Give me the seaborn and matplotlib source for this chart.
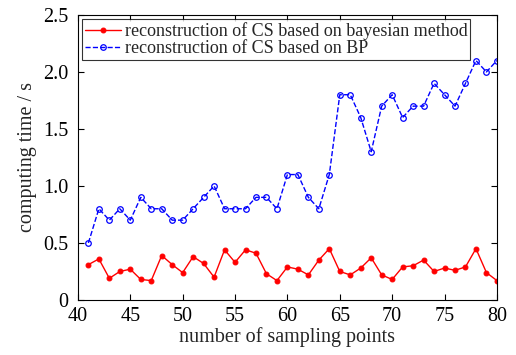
import matplotlib
matplotlib.use("Agg")
import matplotlib.pyplot as plt
import seaborn as sns
import pandas as pd

points = list(range(41, 81))
bayes = [0.31, 0.36, 0.19, 0.25, 0.27, 0.18, 0.17, 0.39, 0.31, 0.24,
         0.38, 0.32, 0.20, 0.44, 0.33, 0.44, 0.41, 0.23, 0.17, 0.29,
         0.27, 0.22, 0.35, 0.45, 0.25, 0.22, 0.28, 0.37, 0.22, 0.18,
         0.29, 0.30, 0.35, 0.25, 0.28, 0.26, 0.29, 0.45, 0.24, 0.17]
bp = [0.5, 0.8, 0.7, 0.8, 0.7, 0.9, 0.8, 0.8, 0.7, 0.7,
      0.8, 0.9, 1.0, 0.8, 0.8, 0.8, 0.9, 0.9, 0.8, 1.1,
      1.1, 0.9, 0.8, 1.1, 1.8, 1.8, 1.6, 1.3, 1.7, 1.8,
      1.6, 1.7, 1.7, 1.9, 1.8, 1.7, 1.9, 2.1, 2.0, 2.1]
labels = ["reconstruction of CS based on bayesian method",
          "reconstruction of CS based on BP"]
xticks = [40, 45, 50, 55, 60, 65, 70, 75, 80]
yticks = [0, 0.5, 1.0, 1.5, 2.0, 2.5]
yticklabels = ["0", "0.5", "1.0", "1.5", "2.0", "2.5"]

sns.set_style("ticks")
plt.rcParams["font.family"] = ["Liberation Serif", "DejaVu Serif"]

fig = plt.figure(figsize=(5.16, 3.55), dpi=100)
ax = fig.add_axes([0.151, 0.155, 0.812, 0.803])

df1 = pd.DataFrame({"x": points, "y": bayes})
df2 = pd.DataFrame({"x": points, "y": bp})
sns.lineplot(data=df1, x="x", y="y", ax=ax, color="#ff0000", linestyle="-",
             marker="o", markersize=3.5, markeredgecolor="#ff0000",
             linewidth=1.0, label=labels[0])
sns.lineplot(data=df2, x="x", y="y", ax=ax, color="#0000ff", linestyle="--",
             marker="o", markersize=4, markerfacecolor="none",
             markeredgecolor="#0000ff", markeredgewidth=0.9,
             linewidth=1.0, dashes=(4, 2), label=labels[1])

ax.set_xlim(40, 80)
ax.set_ylim(0, 2.5)
ax.set_xticks(xticks)
ax.set_yticks(yticks)
ax.set_yticklabels(yticklabels)
ax.tick_params(direction="in", top=True, right=True, labelsize=14.5,
               length=4, width=0.8, colors="black")
ax.tick_params(axis="y", pad=7)
ax.tick_params(axis="x", pad=5)
for s in ax.spines.values():
    s.set_visible(True)
    s.set_linewidth(0.8)
    s.set_color("black")
ax.set_xlabel("number of sampling points", fontsize=14.5, labelpad=1)
ax.set_ylabel("computing time / s", fontsize=14.5, labelpad=4)
leg = ax.legend(loc="upper left", fontsize=13, frameon=True, fancybox=False,
                edgecolor="black", borderpad=0.15, labelspacing=0.0,
                handlelength=2.0, handletextpad=0.2, borderaxespad=0.25)
leg.get_frame().set_linewidth(0.8)
fig.savefig("out.png", dpi=100)
